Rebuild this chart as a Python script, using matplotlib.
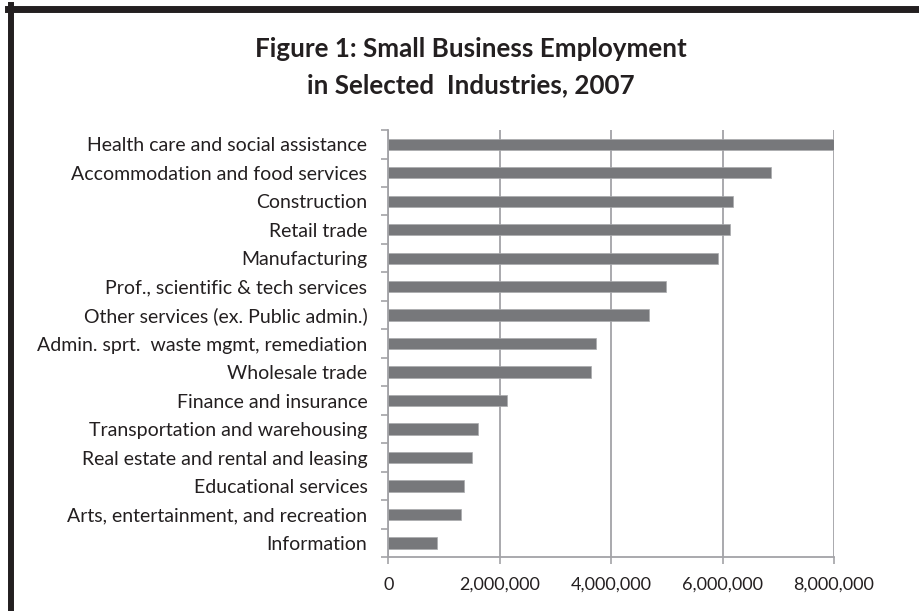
"""
Horizontal bar chart of small business employment by industry, 2007.
"""

import matplotlib

matplotlib.use("Agg")
import matplotlib.pyplot as plt  # noqa: E402
from matplotlib.ticker import FuncFormatter  # noqa: E402


INDUSTRIES = [
    "Health care and social assistance",
    "Accommodation and food services",
    "Construction",
    "Retail trade",
    "Manufacturing",
    "Prof., scientific & tech services",
    "Other services (ex. Public admin.)",
    "Admin. sprt.  waste mgmt, remediation",
    "Wholesale trade",
    "Finance and insurance",
    "Transportation and warehousing",
    "Real estate and rental and leasing",
    "Educational services",
    "Arts, entertainment, and recreation",
    "Information",
]
EMPLOYMENT = [
    8000000, 6864000, 6193000, 6139000, 5923000,
    4990000, 4679000, 3728000, 3633000, 2131000,
    1610000, 1497000, 1353000, 1310000, 868000,
]
X_TICKS = [0, 2000000, 4000000, 6000000, 8000000]

BAR_COLOR = "#77787b"
GRID_COLOR = "#a3a3a7"
TEXT_COLOR = "#231f20"

plt.rcParams["font.family"] = ["Lato", "DejaVu Sans"]

fig = plt.figure(figsize=(9.2, 6.11), dpi=100)
ax = fig.add_axes([0.4221, 0.0879, 0.4844, 0.6993])

n = len(INDUSTRIES)
ypos = list(range(n))[::-1]
ax.barh(ypos, EMPLOYMENT, height=0.4, color=BAR_COLOR,
        edgecolor="#a9aaad", linewidth=0.5, zorder=3)

ax.set_ylim(-0.5, n - 0.5)
ax.set_xlim(0, 8000000)
ax.set_yticks(ypos)
ax.set_yticklabels(INDUSTRIES, fontsize=14, color=TEXT_COLOR)
ax.set_yticks([i - 0.5 for i in range(n + 1)], minor=True)
ax.tick_params(axis="y", which="major", length=0, pad=15)
ax.tick_params(axis="y", which="minor", length=5, width=1.2, color=GRID_COLOR)

ax.set_xticks(X_TICKS)
ax.xaxis.set_major_formatter(FuncFormatter(lambda v, _: f"{int(v):,}"))
ax.tick_params(axis="x", length=5, width=1.2, color=GRID_COLOR,
               labelsize=13, labelcolor=TEXT_COLOR, pad=9)

ax.grid(axis="x", color=GRID_COLOR, linewidth=1.3, zorder=0)
for side in ("top", "right"):
    ax.spines[side].set_visible(False)
for side in ("left", "bottom"):
    ax.spines[side].set_color(GRID_COLOR)
    ax.spines[side].set_linewidth(1.3)

fig.text(0.5118, 0.9072, "Figure 1: Small Business Employment",
         ha="center", va="baseline", fontsize=18.7, fontweight="bold", color=TEXT_COLOR)
fig.text(0.5118, 0.8478, "in Selected  Industries, 2007",
         ha="center", va="baseline", fontsize=18.7, fontweight="bold", color=TEXT_COLOR)

# heavy frame along the top and left edges
fig.add_artist(plt.Line2D([0.0087, 1.0], [0.985, 0.985], transform=fig.transFigure,
                          color=TEXT_COLOR, linewidth=5))
fig.add_artist(plt.Line2D([0.0121, 0.0121], [0.0, 0.991], transform=fig.transFigure,
                          color=TEXT_COLOR, linewidth=4.3))

fig.savefig("out.png", dpi=100)
